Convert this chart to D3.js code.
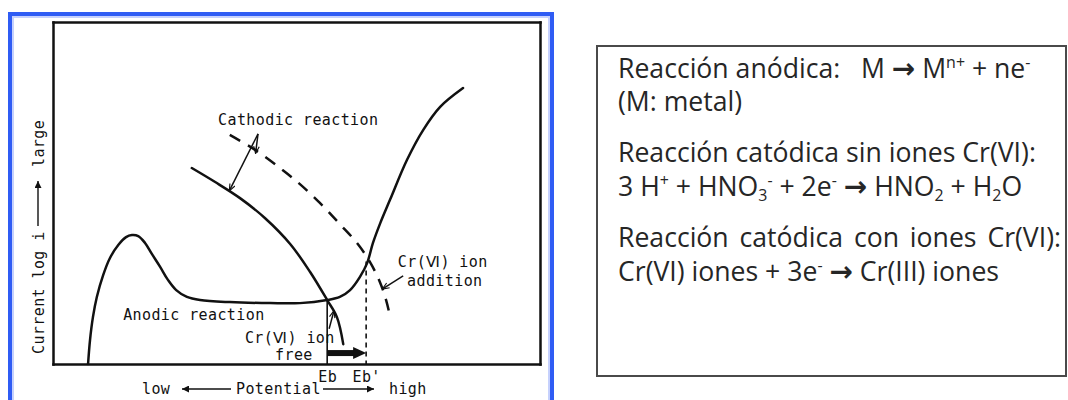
<!DOCTYPE html>
<html>
<head>
<meta charset="utf-8">
<script src="https://cdn.jsdelivr.net/npm/d3@7"></script>
<style>
  html, body { margin: 0; padding: 0; background: #ffffff; }
  svg { display: block; }
</style>
</head>
<body>
<svg id="chart" width="1068" height="400"></svg>
<script>
// Polarization curves, potential (x) vs log i (y), both in relative units 0–100
const anodicCurve = [
  [7.2, 0.0], [7.6, 7.0], [8.2, 13.7], [9.0, 19.6], [10.3, 26.0], [11.7, 31.0],
  [13.4, 34.8], [15.0, 37.1], [16.2, 37.7], [17.5, 37.4], [18.9, 35.4], [20.3, 32.2],
  [22.0, 28.4], [23.6, 24.6], [25.3, 21.6], [27.5, 19.6], [30.2, 18.7], [36.3, 18.1],
  [44.6, 17.8], [50.7, 17.8], [56.3, 18.7], [58.9, 19.6], [61.0, 21.6], [63.0, 25.4],
  [64.5, 29.5], [65.7, 35.4], [67.2, 41.2], [69.2, 48.0], [72.7, 59.7], [76.0, 68.4],
  [79.5, 75.2], [84.2, 80.7]
];
const cathodicFree = [
  [28.5, 57.3], [33.3, 53.2], [38.4, 48.5], [43.5, 42.7], [48.7, 35.1],
  [52.8, 26.9], [56.3, 18.7], [58.3, 13.7], [59.6, 5.8]
];
const cathodicCr = [
  [36.3, 67.0], [41.5, 62.6], [46.6, 57.3], [50.7, 52.6], [54.8, 47.1], [58.9, 40.9],
  [62.4, 35.4], [65.1, 29.8], [67.2, 23.7], [68.4, 18.7], [69.2, 14.0]
];

// Breakdown potentials without / with Cr(VI), and the log i where each curve pair crosses
const potentialMarks = [56.3, 64.3];
const potentialTickLabels = ["Eb", "Eb'"];
const crossingLogI = [18.7, 30.0];

const xTitleWords = ["low", "Potential", "high"];
const yTitleWords = ["Current log i", "large"];
const curveLabels = ["Cathodic reaction", "Anodic reaction"];
const crAddLabel = ["Cr(Ⅵ) ion", "addition"];
const crFreeLabel = ["Cr(Ⅵ) ion", "free"];

// Reaction notes: each line is a list of [text, style] runs
const noteLines = [
  [["Reacción anódica:   M "], ["→", "arrow"], [" M"], ["n+", "sup"], [" + ne"], ["-", "sup"]],
  [["(M: metal)"]],
  [["Reacción catódica sin iones Cr(VI):"]],
  [["3 H"], ["+", "sup"], [" + HNO"], ["3", "sub"], ["-", "sup"], [" + 2e"], ["-", "sup"], [" "], ["→", "arrow"],
   [" HNO"], ["2", "sub"], [" + H"], ["2", "sub"], ["O"]],
  [["Reacción catódica con iones Cr(VI):"]],
  [["Cr(VI) iones + 3e"], ["-", "sup"], [" "], ["→", "arrow"], [" Cr(III) iones"]]
];
const noteBaselines = [78, 111, 162, 196, 247, 281];
const justifiedLine = 4;

const mono = "'DejaVu Sans Mono', 'Liberation Mono', monospace";
const sans = "'Open Sans', 'Noto Sans', sans-serif";
const ink = "#111";

const svg = d3.select("#chart");

// Blue selection frame around the figure
svg.append("rect").attr("x", 10).attr("y", 14).attr("width", 542).attr("height", 420)
  .attr("fill", "none").attr("stroke", "#2f5cf4").attr("stroke-width", 4);
svg.append("rect").attr("x", 13).attr("y", 17).attr("width", 536).attr("height", 420)
  .attr("fill", "none").attr("stroke", "#c6d1fd").attr("stroke-width", 2);

const defs = svg.append("defs");
defs.append("marker").attr("id", "head").attr("viewBox", "0 0 10 10")
  .attr("refX", 10).attr("refY", 5).attr("markerWidth", 10).attr("markerHeight", 7)
  .attr("markerUnits", "userSpaceOnUse").attr("orient", "auto")
  .append("path").attr("d", "M0,0 L10,5 L0,10 Z").attr("fill", ink);
defs.append("marker").attr("id", "tip").attr("viewBox", "0 0 10 10")
  .attr("refX", 10).attr("refY", 5).attr("markerWidth", 8).attr("markerHeight", 7)
  .attr("markerUnits", "userSpaceOnUse").attr("orient", "auto")
  .append("path").attr("d", "M0,1 L10,5 L0,9").attr("fill", "none")
  .attr("stroke", ink).attr("stroke-width", 1.6);

const x = d3.scaleLinear().domain([0, 100]).range([53, 540]);
const y = d3.scaleLinear().domain([0, 100]).range([364, 22]);

// Plot frame drawn from four tickless axes; Eb / Eb' are the bottom tick labels
const frame = svg.append("g");
frame.append("g").attr("transform", `translate(0,${y(0)})`)
  .call(d3.axisBottom(x).tickValues(potentialMarks)
    .tickFormat((d, i) => potentialTickLabels[i]).tickSize(0).tickSizeOuter(0).tickPadding(7));
frame.append("g").attr("transform", `translate(0,${y(100)})`)
  .call(d3.axisTop(x).tickValues([]).tickSizeOuter(0));
frame.append("g").attr("transform", `translate(${x(0)},0)`)
  .call(d3.axisLeft(y).tickValues([]).tickSizeOuter(0));
frame.append("g").attr("transform", `translate(${x(100)},0)`)
  .call(d3.axisRight(y).tickValues([]).tickSizeOuter(0));
frame.selectAll(".domain").attr("stroke", ink).attr("stroke-width", 2.5)
  .attr("stroke-linecap", "square");
frame.selectAll(".tick text").attr("font-family", mono).attr("font-size", 15)
  .attr("fill", ink).style("letter-spacing", "0.4px");

// Curves
const curve = d3.line().x(d => x(d[0])).y(d => y(d[1])).curve(d3.curveCatmullRom.alpha(0.5));
const curves = svg.append("g").attr("fill", "none").attr("stroke", ink)
  .attr("stroke-linecap", "round").attr("stroke-linejoin", "round");
curves.append("path").datum(anodicCurve).attr("d", curve).attr("stroke-width", 2.5);
curves.append("path").datum(cathodicFree).attr("d", curve).attr("stroke-width", 2.5);
curves.append("path").datum(cathodicCr).attr("d", curve).attr("stroke-width", 2.5)
  .attr("stroke-dasharray", "12,9").attr("stroke-linecap", "butt");

// Drop lines to the potential axis
svg.append("line").attr("x1", x(potentialMarks[0])).attr("x2", x(potentialMarks[0]))
  .attr("y1", y(crossingLogI[0])).attr("y2", y(0))
  .attr("stroke", ink).attr("stroke-width", 1.6);
svg.append("line").attr("x1", x(potentialMarks[1])).attr("x2", x(potentialMarks[1]))
  .attr("y1", y(crossingLogI[1])).attr("y2", y(0))
  .attr("stroke", ink).attr("stroke-width", 1.6).attr("stroke-dasharray", "5,4");

// Shift of the breakdown potential
const shiftY = y(3.2);
const shiftEnd = x(potentialMarks[1]);
svg.append("line").attr("x1", x(potentialMarks[0])).attr("x2", shiftEnd - 10)
  .attr("y1", shiftY).attr("y2", shiftY).attr("stroke", ink).attr("stroke-width", 6);
svg.append("path")
  .attr("d", `M${shiftEnd},${shiftY} L${shiftEnd - 13},${shiftY - 6} L${shiftEnd - 13},${shiftY + 6} Z`)
  .attr("fill", ink);

// Annotation text and leaders
const ann = svg.append("g").attr("font-family", mono).attr("font-size", 15)
  .attr("fill", ink).style("letter-spacing", "0.4px");
function label(txt, dx, dy) {
  ann.append("text").attr("x", x(dx)).attr("y", y(dy)).text(txt);
}
function leader(p, q) {
  svg.append("line").attr("x1", x(p[0])).attr("y1", y(p[1]))
    .attr("x2", x(q[0])).attr("y2", y(q[1]))
    .attr("stroke", ink).attr("stroke-width", 1.5).attr("marker-end", "url(#tip)");
}
label(curveLabels[0], 33.9, 69.9);
leader([42.1, 67.3], [36.2, 50.6]);
leader([42.1, 67.3], [41.6, 61.6]);

label(curveLabels[1], 14.4, 12.9);

label(crAddLabel[0], 70.8, 28.4);
label(crAddLabel[1], 72.7, 22.8);
leader([71.9, 25.8], [67.6, 21.9]);

label(crFreeLabel[0], 39.4, 6.1);
label(crFreeLabel[1], 45.6, 1.2);
leader([56.7, 10.3], [57.7, 15.6]);

// Axis titles
const titles = svg.append("g").attr("font-family", mono).attr("font-size", 15)
  .attr("fill", ink).style("letter-spacing", "0.4px");
titles.append("text").attr("x", 142).attr("y", 394).text(xTitleWords[0]);
titles.append("text").attr("x", 236).attr("y", 394).text(xTitleWords[1]);
titles.append("text").attr("x", 389).attr("y", 394).text(xTitleWords[2]);
svg.append("line").attr("x1", 231).attr("x2", 182).attr("y1", 389).attr("y2", 389)
  .attr("stroke", ink).attr("stroke-width", 1.4).attr("marker-end", "url(#head)");
svg.append("line").attr("x1", 323).attr("x2", 374).attr("y1", 389).attr("y2", 389)
  .attr("stroke", ink).attr("stroke-width", 1.4).attr("marker-end", "url(#head)");

titles.append("text").attr("transform", "translate(44,354) rotate(-90)").text(yTitleWords[0]);
titles.append("text").attr("transform", "translate(44,167) rotate(-90)").text(yTitleWords[1]);
svg.append("line").attr("x1", 38).attr("x2", 38).attr("y1", 226).attr("y2", 181)
  .attr("stroke", ink).attr("stroke-width", 1.4).attr("marker-end", "url(#head)");

// Reaction notes box
svg.append("rect").attr("x", 597).attr("y", 46).attr("width", 469).attr("height", 330)
  .attr("fill", "#fff").attr("stroke", "#4a4a4a").attr("stroke-width", 2);

const notes = svg.append("g").attr("font-family", sans).attr("fill", "#262626");

function drawLine(runs, baseline, fs) {
  const t = notes.append("text").attr("x", 618).attr("y", baseline)
    .attr("font-size", fs).attr("xml:space", "preserve").style("white-space", "pre");
  let shift = 0;
  runs.forEach(([txt, kind]) => {
    let target = 0, size = fs, weight = null, family = null;
    if (kind === "sup") { target = -0.36 * fs; size = 0.6 * fs; }
    if (kind === "sub") { target = 0.2 * fs; size = 0.6 * fs; }
    if (kind === "arrow") { weight = 700; family = "'DejaVu Sans', sans-serif"; size = 1.05 * fs; }
    const s = t.append("tspan").attr("dy", target - shift).attr("font-size", size).text(txt);
    if (weight) s.attr("font-weight", weight);
    if (family) s.attr("font-family", family);
    shift = target;
  });
  return t;
}

// Size the text so the third note spans its measured width
const probe = drawLine(noteLines[2], -100, 26);
const fs = 26 * 418 / probe.node().getComputedTextLength();
probe.remove();

noteLines.forEach((runs, i) => {
  const t = drawLine(runs, noteBaselines[i], fs);
  if (i === justifiedLine) {
    const w = t.node().getComputedTextLength();
    const gaps = runs.map(r => r[0]).join("").split(" ").length - 1;
    t.attr("word-spacing", Math.max(0, (443 - w) / gaps));
  }
});
</script>
</body>
</html>
